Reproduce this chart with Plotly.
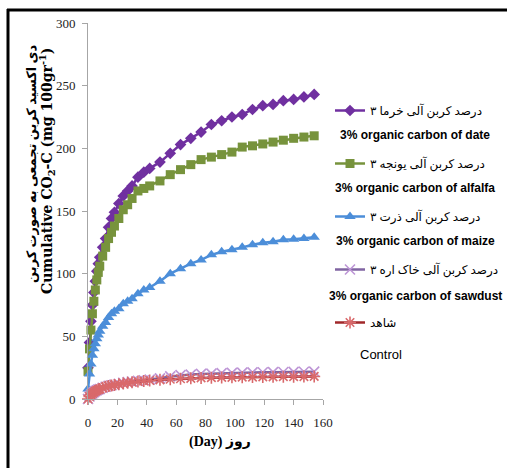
import plotly.graph_objects as go

days = [0, 1, 2, 3, 4, 5, 6, 7, 8, 10, 12, 14, 16, 18, 21, 24, 27, 30, 34, 38, 42,
        49, 56, 63, 70, 77, 84, 91, 98, 105, 112, 119, 126, 133, 140, 147, 154]

date_vals = [25, 45, 62, 75, 85, 94, 102, 108, 113, 121, 128, 137, 144, 149, 156, 162, 166, 170,
             177, 181, 184, 189, 196, 203, 208, 213, 219, 222, 225, 227, 231, 234, 235, 238, 239, 241, 243]
alfalfa_vals = [22, 40, 55, 68, 78, 87, 95, 101, 106, 114, 121, 128, 133, 138, 144, 151, 155, 160,
                166, 168, 170, 174, 179, 183, 187, 191, 193, 195, 197, 201, 202, 203.5, 205, 206.5, 208, 209, 210]
maize_vals = [8, 20, 28, 35, 40, 44, 48, 51, 54, 58, 61, 65, 68, 70, 72, 76, 78, 80,
              84, 87, 89, 94, 100, 104, 108, 111, 115, 117.5, 119, 121, 123, 124.7, 125.5, 127, 127.5, 128, 129]
sawdust_vals = [0, 2, 3.5, 4.5, 5.5, 6.3, 7, 7.6, 8, 9, 9.8, 10.5, 11, 11.5, 12.2, 13, 13.5, 14,
                14.5, 15, 15.5, 16.5, 18, 19, 19.5, 20, 20.3, 20.6, 20.8, 21, 21.2, 21.3, 21.4, 21.5, 21.6, 21.7, 21.8]
control_vals = [0, 2, 3.5, 4.5, 5.5, 6.3, 7, 7.5, 8, 9, 9.7, 10.3, 10.8, 11.2, 11.8, 12.4, 13, 13.4,
                14, 14.4, 14.8, 15.3, 15.8, 16.2, 16.5, 16.8, 17, 17.2, 17.3, 17.4, 17.5, 17.6, 17.7, 17.8, 17.8, 17.9, 18]

names_fa = ["۳ درصد کربن آلی خرما", "۳ درصد کربن آلی یونجه", "۳ درصد کربن آلی ذرت",
            "۳ درصد کربن آلی خاک اره", "شاهد"]
names_en = ["3% organic carbon of date", "3% organic carbon of alfalfa", "3% organic carbon of maize",
            "3% organic carbon of sawdust", "Control"]

x_ticks = [0, 20, 40, 60, 80, 100, 120, 140, 160]
y_ticks = [0, 50, 100, 150, 200, 250, 300]

series = [date_vals, alfalfa_vals, maize_vals, sawdust_vals, control_vals]
line_colors = ["#7030A0", "#77933C", "#4C8ED9", "#8064A2", "#A0282A"]
marker_colors = ["#7030A0", "#77933C", "#4C8ED9", "#BE96D6", "#D9696B"]
symbols = ["diamond", "square", "triangle-up", "x-thin-open", "asterisk-open"]
sizes = [9, 9, 10, 10, 10]

fig = go.Figure()
for i, vals in enumerate(series):
    open_sym = symbols[i].endswith("open")
    fig.add_trace(go.Scatter(
        x=days, y=vals, mode="lines+markers", name=names_fa[i],
        legendgroup=str(i), cliponaxis=False,
        line=dict(color=line_colors[i], width=2.5),
        marker=dict(symbol=symbols[i], size=sizes[i], color=marker_colors[i],
                    line=dict(color=marker_colors[i], width=1.6 if open_sym else 0)),
    ))

PL, PR, PT, PB = 88, 323, 23, 399
W, H = 507, 468


def px_x(px):
    return (px - PL) / (PR - PL)


def px_y(py):
    return (PB - py) / (PB - PT)


serif = "Liberation Serif, Times New Roman, DejaVu Sans, serif"
wide_serif = "DejaVu Serif, Liberation Serif, serif"
sans = "Liberation Sans, Arial, DejaVu Sans, sans-serif"

annotations = []
en_y = [135, 188, 241, 296, 354]
en_x = [415, 415, 415, 415, 381]
for i, t in enumerate(names_en):
    annotations.append(dict(
        text=f"<b>{t}</b>" if i < 4 else t, x=px_x(en_x[i]), y=px_y(en_y[i]),
        xref="paper", yref="paper", showarrow=False, xanchor="center", yanchor="middle",
        font=dict(family=sans, size=12 if i < 4 else 13, color="#000000")))

annotations.append(dict(
    text="<b>دی اکسید کربن تجمعی به صورت کربن</b>", textangle=-90,
    x=px_x(31), y=px_y(43), xref="paper", yref="paper", showarrow=False,
    xanchor="center", yanchor="top", font=dict(family=serif, size=13, color="#000000")))
annotations.append(dict(
    text="<b>Cumulative CO<sub>2</sub>-C (mg 100gr<sup>-1</sup>)</b>", textangle=-90,
    x=px_x(47), y=px_y(46), xref="paper", yref="paper", showarrow=False,
    xanchor="center", yanchor="top", font=dict(family=wide_serif, size=14, color="#000000")))
annotations.append(dict(
    text="<b>(Day) روز</b>", x=px_x(220), y=px_y(442), xref="paper", yref="paper",
    showarrow=False, xanchor="center", yanchor="middle",
    font=dict(family=serif, size=14, color="#000000")))

shapes = [
    dict(type="line", xref="paper", yref="paper", x0=px_x(7), x1=px_x(507), y0=px_y(10), y1=px_y(10),
         line=dict(color="#000000", width=3)),
    dict(type="line", xref="paper", yref="paper", x0=px_x(8), x1=px_x(8), y0=px_y(9), y1=px_y(468),
         line=dict(color="#000000", width=3)),
]

fig.update_layout(
    width=W, height=H,
    margin=dict(l=PL, r=W - PR, t=PT, b=H - PB, pad=0, autoexpand=False),
    paper_bgcolor="white", plot_bgcolor="white",
    showlegend=True,
    legend=dict(x=px_x(330), y=px_y(96), xanchor="left", yanchor="top",
                tracegroupgap=34, bgcolor="rgba(0,0,0,0)",
                font=dict(family=serif, size=12, color="#000000"), itemwidth=30),
    xaxis=dict(range=[0, 160], tickvals=x_ticks, ticktext=[str(v) for v in x_ticks],
               showgrid=False, zeroline=False, showline=True, linecolor="#A6A6A6", linewidth=1,
               ticks="outside", ticklen=5, tickcolor="#A6A6A6", automargin=False,
               ticklabelstandoff=6,
               tickfont=dict(family=serif, size=13, color="#222222")),
    yaxis=dict(range=[0, 300], tickvals=y_ticks, ticktext=[str(v) for v in y_ticks],
               showgrid=False, zeroline=False, showline=True, linecolor="#A6A6A6", linewidth=1,
               ticks="outside", ticklen=5, tickcolor="#A6A6A6", automargin=False,
               ticklabelstandoff=4,
               tickfont=dict(family=serif, size=13, color="#222222")),
    annotations=annotations, shapes=shapes,
)

fig.write_html("out.html", config={"displayModeBar": False},
               post_script="document.body.style.margin='0';document.body.style.overflow='hidden';")
